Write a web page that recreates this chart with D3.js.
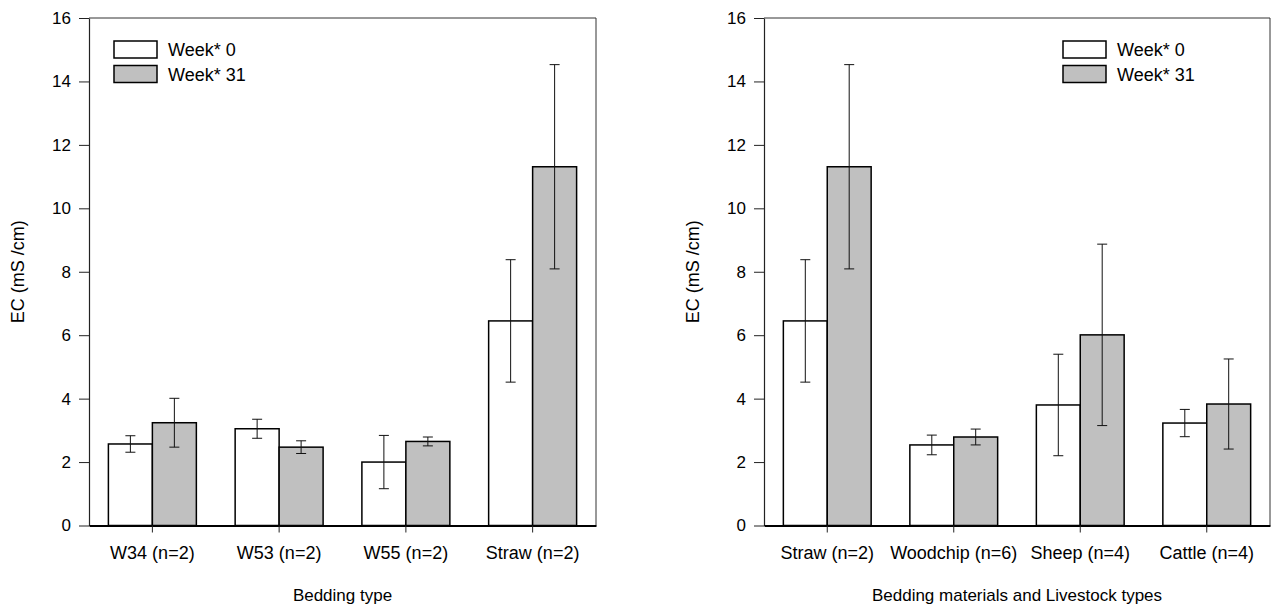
<!DOCTYPE html>
<html>
<head>
<meta charset="utf-8">
<script src="https://cdn.jsdelivr.net/npm/d3@7"></script>
<style>
  html, body { margin: 0; padding: 0; background: #fff; }
  svg { display: block; font-family: "Liberation Sans", Arial, sans-serif; }
</style>
</head>
<body>
<svg id="chart" width="1273" height="607"></svg>
<script>
// Electrical conductivity of bedding, week 0 vs week 31 (mean ± SE)
const seriesNames = ["Week* 0", "Week* 31"];
const yTicks = [0, 2, 4, 6, 8, 10, 12, 14, 16];

// Left panel: bedding type
const beddingTypes = ["W34 (n=2)", "W53 (n=2)", "W55 (n=2)", "Straw (n=2)"];
const beddingWeek0 = [2.57, 3.05, 2.00, 6.45];
const beddingWeek0Err = [0.26, 0.30, 0.84, 1.93];
const beddingWeek31 = [3.24, 2.47, 2.65, 11.31];
const beddingWeek31Err = [0.77, 0.20, 0.14, 3.22];

// Right panel: bedding materials and livestock types
const materialTypes = ["Straw (n=2)", "Woodchip (n=6)", "Sheep (n=4)", "Cattle (n=4)"];
const materialWeek0 = [6.45, 2.54, 3.80, 3.23];
const materialWeek0Err = [1.93, 0.31, 1.60, 0.43];
const materialWeek31 = [11.31, 2.79, 6.01, 3.83];
const materialWeek31Err = [3.22, 0.25, 2.86, 1.42];

const fills = ["#ffffff", "#c0c0c0"];
const svg = d3.select("#chart");

function drawPanel(opts) {
  const { left, right, top, bottom, categories, values, errors, xTitle, legendX } = opts;
  const g = svg.append("g");

  const x0 = d3.scaleBand().domain(categories).range([left, right]).padding(0);
  const bw = x0.bandwidth();
  const x1 = d3.scaleBand().domain(seriesNames).range([bw * 0.153, bw * 0.847]).padding(0);
  const y = d3.scaleLinear().domain([0, 16]).range([bottom, top]);

  // frame (top and right edges)
  g.append("path")
    .attr("d", `M${left},${top}H${right}V${bottom}`)
    .attr("fill", "none").attr("stroke", "#333").attr("stroke-width", 1);

  // bars
  const rows = categories.map((c, i) => seriesNames.map((s, k) => ({
    cat: c, series: s, k, v: values[k][i], e: errors[k][i]
  }))).flat();

  g.selectAll("rect.bar").data(rows).join("rect")
    .attr("class", "bar")
    .attr("x", d => x0(d.cat) + x1(d.series))
    .attr("y", d => y(d.v))
    .attr("width", x1.bandwidth())
    .attr("height", d => y(0) - y(d.v))
    .attr("fill", d => fills[d.k])
    .attr("stroke", "#000").attr("stroke-width", 1.5);

  // error bars
  const eb = g.selectAll("g.err").data(rows).join("g").attr("class", "err")
    .attr("stroke", "#111").attr("stroke-width", 1);
  const cx = d => x0(d.cat) + x1(d.series) + x1.bandwidth() / 2;
  eb.append("line").attr("x1", cx).attr("x2", cx)
    .attr("y1", d => y(d.v + d.e)).attr("y2", d => y(d.v - d.e));
  eb.append("line").attr("x1", d => cx(d) - 5).attr("x2", d => cx(d) + 5)
    .attr("y1", d => y(d.v + d.e)).attr("y2", d => y(d.v + d.e));
  eb.append("line").attr("x1", d => cx(d) - 5).attr("x2", d => cx(d) + 5)
    .attr("y1", d => y(d.v - d.e)).attr("y2", d => y(d.v - d.e));

  // y axis
  const ya = g.append("g").attr("transform", `translate(${left},0)`)
    .call(d3.axisLeft(y).tickValues(yTicks).tickSize(10).tickSizeOuter(0).tickPadding(8));
  ya.select(".domain").attr("stroke", "#222").attr("stroke-width", 1.2);
  ya.selectAll(".tick line").attr("stroke", "#222");
  ya.selectAll(".tick text").attr("font-size", 17).attr("fill", "#000")
    .attr("font-family", "Liberation Sans, Arial, sans-serif");

  // x axis
  const xa = g.append("g").attr("transform", `translate(0,${bottom})`)
    .call(d3.axisBottom(x0).tickSize(7).tickSizeOuter(0).tickPadding(14));
  xa.select(".domain").attr("stroke", "#000").attr("stroke-width", 2);
  xa.selectAll(".tick line").attr("stroke", "#222");
  xa.selectAll(".tick text").attr("font-size", 18).attr("fill", "#000")
    .attr("font-family", "Liberation Sans, Arial, sans-serif");

  // axis titles
  g.append("text")
    .attr("x", (left + right) / 2).attr("y", 601)
    .attr("text-anchor", "middle").attr("font-size", 17)
    .text(xTitle);
  g.append("text")
    .attr("transform", `translate(${left - 65},${(top + bottom) / 2}) rotate(-90)`)
    .attr("text-anchor", "middle").attr("font-size", 18)
    .text("EC (mS /cm)");

  // legend
  const lg = g.append("g").attr("transform", `translate(${legendX},41)`);
  seriesNames.forEach((s, k) => {
    lg.append("rect").attr("x", 0).attr("y", k * 24.5)
      .attr("width", 43).attr("height", 17)
      .attr("fill", fills[k]).attr("stroke", "#000").attr("stroke-width", 1.5);
    lg.append("text").attr("x", 54).attr("y", k * 24.5 + 15)
      .attr("font-size", 18).text(s);
  });
}

drawPanel({
  left: 89, right: 596, top: 18, bottom: 525.5,
  categories: beddingTypes,
  values: [beddingWeek0, beddingWeek31],
  errors: [beddingWeek0Err, beddingWeek31Err],
  xTitle: "Bedding type",
  legendX: 114
});

drawPanel({
  left: 764, right: 1270, top: 18, bottom: 525.5,
  categories: materialTypes,
  values: [materialWeek0, materialWeek31],
  errors: [materialWeek0Err, materialWeek31Err],
  xTitle: "Bedding materials and Livestock types",
  legendX: 1063
});
</script>
</body>
</html>
